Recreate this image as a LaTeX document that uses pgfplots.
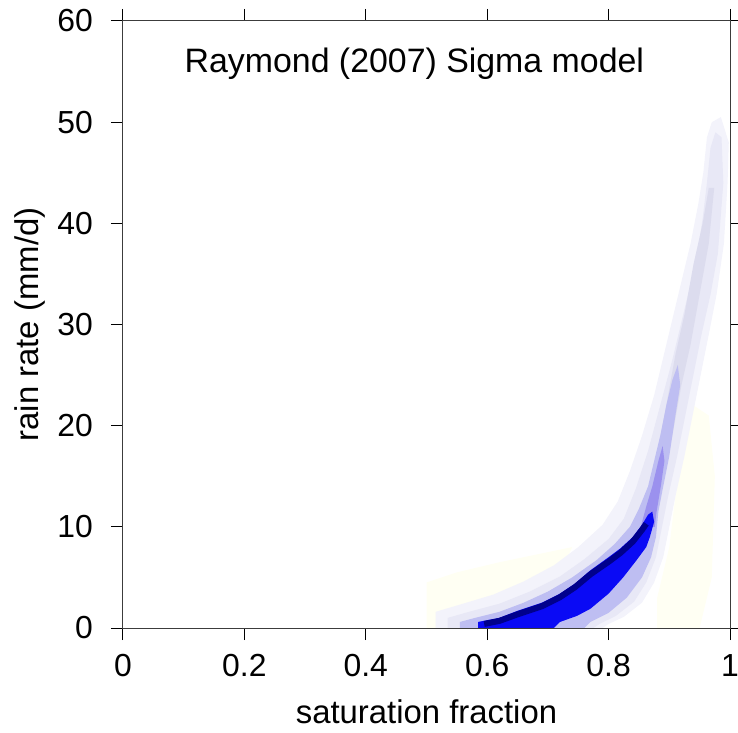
\documentclass[border=0pt]{standalone}
\usepackage{fontspec}
\setmainfont{Liberation Sans}
\usepackage{pgfplots}
\pgfplotsset{compat=1.18}
\definecolor{fyel}{RGB}{255,255,243}
\definecolor{halo0}{RGB}{243,243,251}
\definecolor{halo}{RGB}{232,232,246}
\definecolor{tailc}{RGB}{220,220,238}
\definecolor{lav}{RGB}{190,190,242}
\definecolor{purp}{RGB}{155,145,238}
\definecolor{bblue}{RGB}{10,10,245}
\definecolor{navy}{RGB}{0,0,140}
\definecolor{axc}{RGB}{60,60,60}
\begin{document}
\begin{tikzpicture}
\begin{axis}[
  name=ax, at={(0,0)}, anchor=south west,
  scale only axis, width=607bp, height=607bp,
  xmin=0, xmax=1, ymin=0, ymax=60,
  xtick={0,0.2,0.4,0.6,0.8,1}, xticklabels={0,0.2,0.4,0.6,0.8,1},
  ytick={0,10,20,30,40,50,60}, yticklabels={0,10,20,30,40,50,60},
  tick align=outside, major tick length=12bp,
  axis line style={axc, line width=1bp},
  every tick/.style={black, line width=1bp},
  xtick pos=both, ytick pos=both,
  axis on top,
  tick label style={font=\fontsize{32}{38}\selectfont, inner sep=0pt},
  xticklabel style={anchor=north, yshift=-14bp},
  yticklabel style={anchor=east, xshift=-18bp},
  xlabel={saturation fraction}, ylabel={rain rate (mm/d)},
  label style={font=\fontsize{33}{40}\selectfont, inner sep=0pt},
  xlabel style={at={(axis description cs:0.5,-0.157)}, anchor=base},
  ylabel style={at={(axis description cs:-0.14,0.5)}, anchor=base},
]
% faint yellow noise
\addplot[fill=fyel, draw=none] coordinates {(0.50,0) (0.50,4.5) (0.55,5.5) (0.62,6.5) (0.70,7.5) (0.74,8) (0.72,5.3) (0.67,3.8) (0.62,2.6) (0.57,1.8) (0.53,1.2) (0.53,0) (0.50,0)};
\addplot[fill=fyel, draw=none] coordinates {(0.88,0) (0.88,3) (0.90,8) (0.91,13) (0.925,18) (0.94,22) (0.965,21) (0.975,15) (0.97,5) (0.95,0) (0.88,0)};
% outer faint halo
\addplot[fill=halo0, draw=none] coordinates {(0.515,0) (0.515,1.6) (0.56,2.4) (0.61,3.3) (0.66,4.6) (0.71,6.2) (0.75,8.0) (0.79,10.2) (0.815,12.5) (0.835,15.5) (0.855,19) (0.875,23) (0.895,28) (0.915,33) (0.935,38) (0.948,42) (0.956,45) (0.962,48.5) (0.97,50)
 (0.985,50.5) (0.998,48) (0.996,44) (0.99,38) (0.978,33) (0.965,29) (0.945,23) (0.925,17) (0.91,13) (0.90,10) (0.89,7) (0.875,4.5) (0.855,2.5) (0.825,1.1) (0.80,0.4) (0.79,0) (0.515,0)};
% halo
\addplot[fill=halo, draw=none] coordinates {(0.535,0) (0.535,1.0) (0.57,1.6) (0.62,2.4) (0.67,3.6) (0.72,5.1) (0.76,6.8) (0.80,8.8) (0.825,10.8) (0.845,13.8) (0.865,17.5) (0.885,22) (0.905,26.5) (0.925,31.5) (0.945,36.5) (0.955,40.5) (0.962,44) (0.968,47.5) (0.976,49)
 (0.986,48.5) (0.989,44) (0.98,37) (0.968,33) (0.953,29) (0.933,23) (0.913,17) (0.898,13) (0.888,10) (0.878,7) (0.862,4.5) (0.842,2.6) (0.812,1.2) (0.785,0.4) (0.775,0) (0.535,0)};
% tail core
\addplot[fill=tailc, draw=none] coordinates {(0.88,17) (0.895,22) (0.91,27) (0.925,31) (0.94,36) (0.955,40) (0.965,43.5) (0.974,43.5) (0.965,38) (0.95,33) (0.935,28) (0.92,24) (0.905,19) (0.895,17) (0.88,17)};
% lavender
\addplot[fill=lav, draw=none] coordinates {(0.555,0) (0.555,0.6) (0.58,1.0) (0.62,1.6) (0.66,2.5) (0.70,3.6) (0.74,5.0) (0.78,6.7) (0.81,8.3) (0.835,10.0) (0.85,11.8) (0.865,14) (0.875,16.5) (0.885,19) (0.895,22) (0.905,24.5) (0.914,26)
 (0.918,24) (0.91,21) (0.90,17) (0.89,14) (0.882,11.5) (0.878,9) (0.87,7) (0.855,5.0) (0.83,3.0) (0.80,1.5) (0.77,0.6) (0.76,0) (0.555,0)};
% purple ridge
\addplot[fill=purp, draw=none] coordinates {(0.853,10) (0.862,12) (0.872,14) (0.882,16.5) (0.889,18) (0.892,16.5) (0.886,14) (0.879,11.5) (0.876,10) (0.853,10)};
% blue core
\addplot[fill=bblue, draw=none] coordinates {(0.585,0) (0.585,0.6) (0.62,1.0) (0.65,1.7) (0.69,2.5) (0.72,3.4) (0.745,4.4) (0.77,5.7) (0.80,7.0) (0.82,7.9) (0.84,9.0) (0.855,10.2) (0.865,11.2) (0.872,11.5)
 (0.875,10.5) (0.868,9.0) (0.862,8.0) (0.846,6.7) (0.824,5.0) (0.80,3.4) (0.77,1.9) (0.748,1.2) (0.72,0.6) (0.71,0) (0.585,0)};
% navy upper edge
\addplot[navy, line width=6bp, line join=round] coordinates {(0.595,0.4) (0.62,0.7) (0.65,1.35) (0.69,2.15) (0.72,3.05) (0.745,4.05) (0.77,5.3) (0.80,6.55) (0.82,7.45) (0.84,8.55) (0.855,9.7) (0.862,10.3)};
\node[font=\fontsize{34}{41}\selectfont, anchor=base] at (axis cs:0.48,54.86) {Raymond (2007) Sigma model};
\end{axis}
\pgfresetboundingbox
\path[use as bounding box] (-123bp,-105bp) rectangle (615bp,628bp);
\end{tikzpicture}
\end{document}
